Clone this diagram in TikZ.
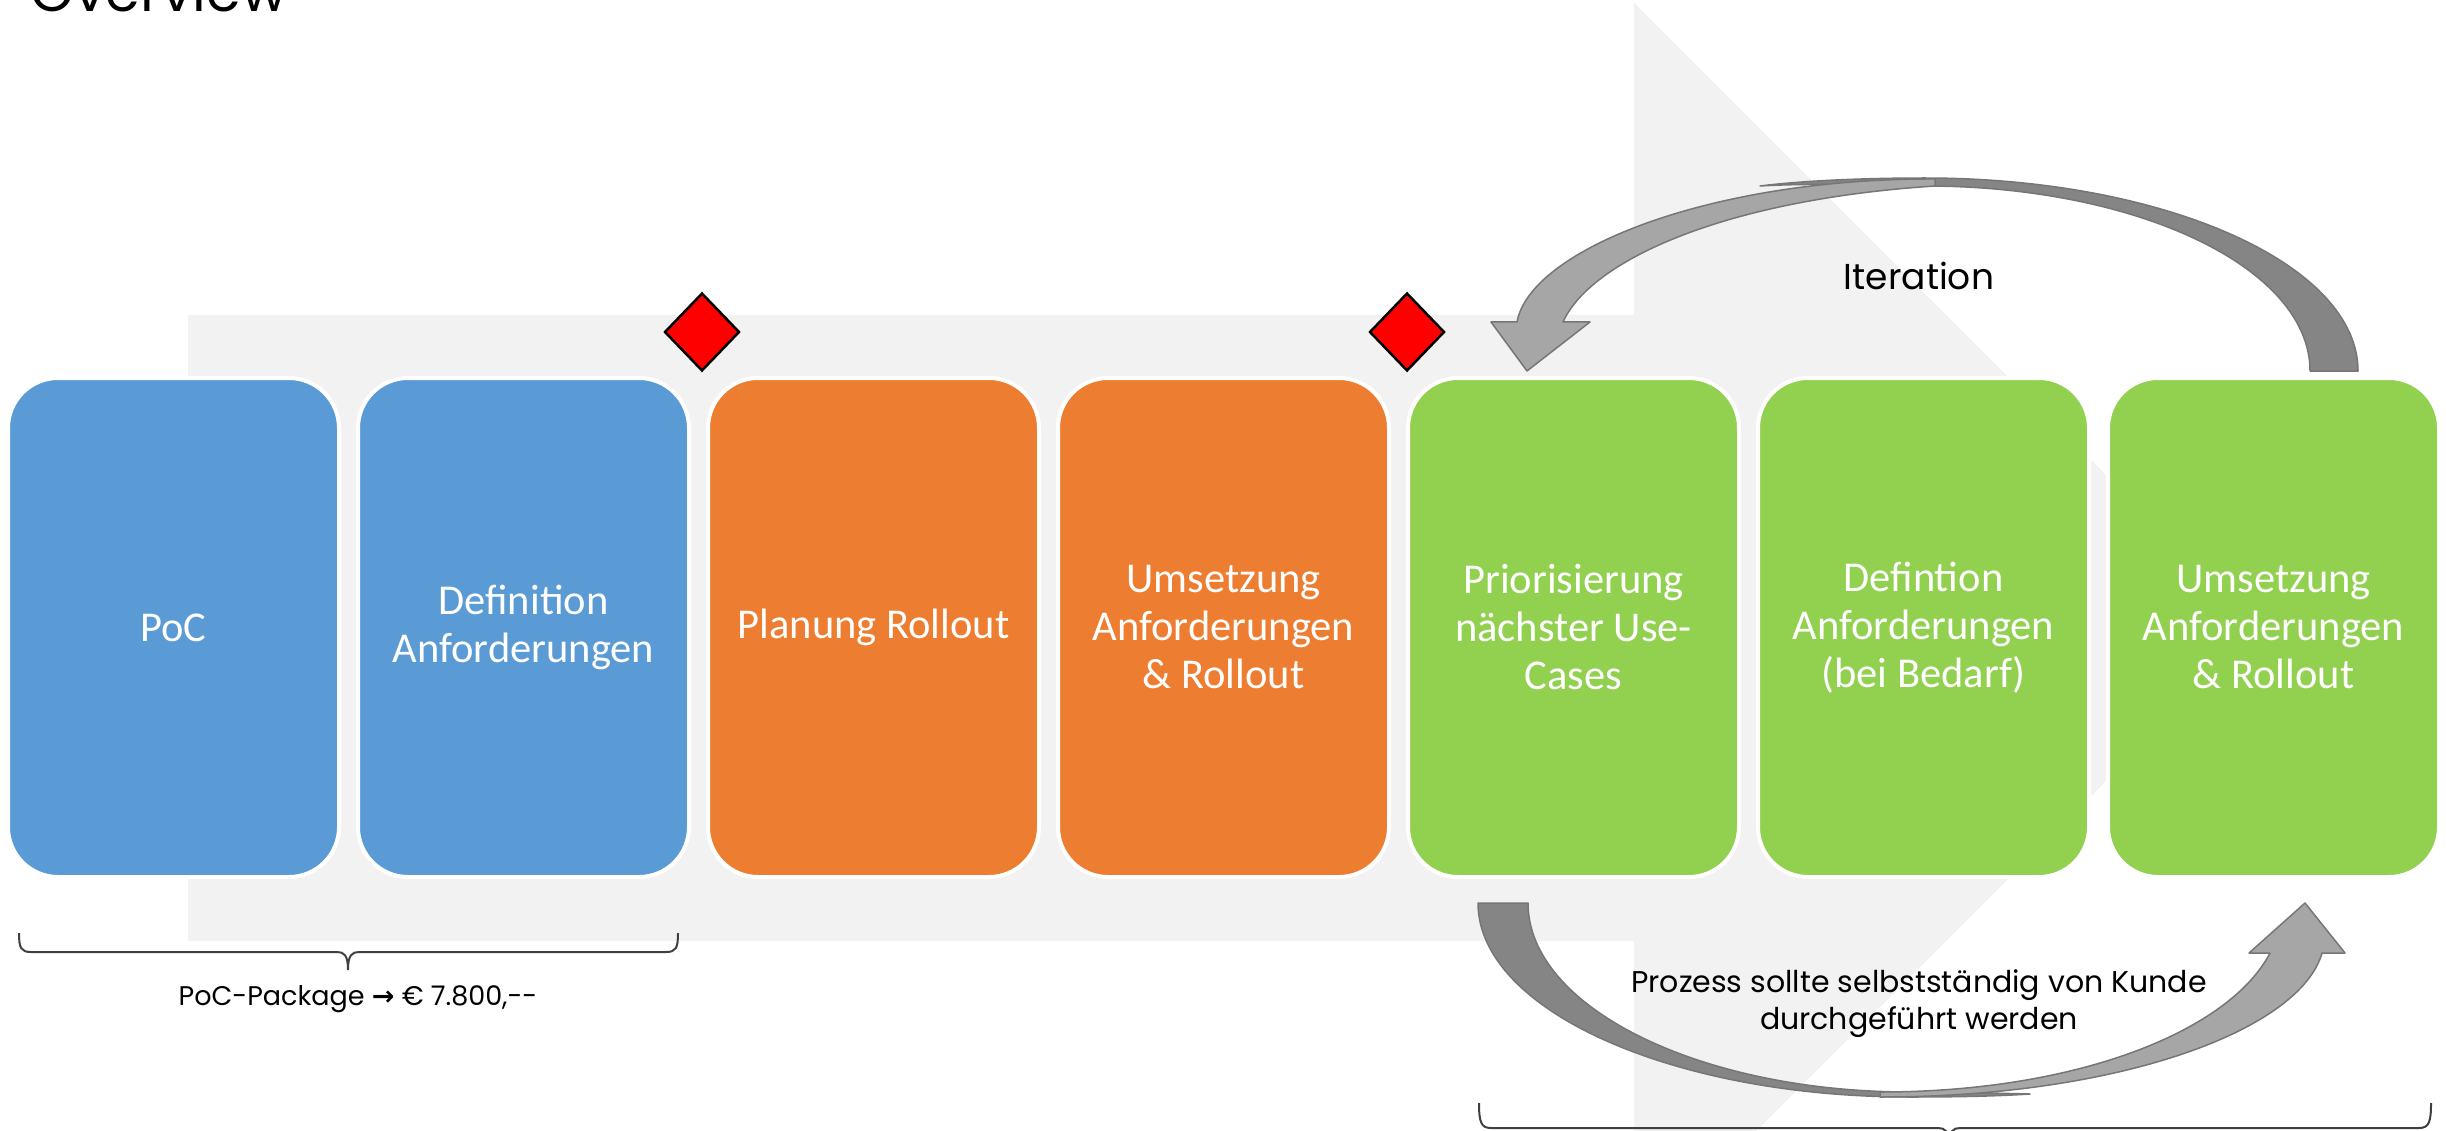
\documentclass[tikz,border=0pt]{standalone}
\usepackage{fontspec}
\usetikzlibrary{shapes.geometric}
\newfontfamily\boxfont{Carlito}
\newfontfamily\gothic{Poppins}
\newfontfamily\symfont{DejaVu Sans}
\definecolor{bgarrow}{HTML}{F2F2F2}
\definecolor{cblue}{HTML}{5B9BD5}
\definecolor{corange}{HTML}{ED7D31}
\definecolor{cgreen}{HTML}{92D050}
\definecolor{arrdark}{HTML}{858585}
\definecolor{arrlight}{HTML}{A6A6A6}
\definecolor{arredge}{HTML}{767676}
\definecolor{bracecol}{HTML}{404040}
\begin{document}
\begin{tikzpicture}[x=1pt,y=-1pt,
  phase/.style={draw=white, line width=4pt, rounded corners=50pt,
    minimum width=331pt, minimum height=499pt, inner sep=0pt,
    text=white, align=center, font=\boxfont\fontsize{42.5}{48}\selectfont},
  phaseblue/.style={phase, fill=cblue},
  phaseorange/.style={phase, fill=corange},
  phasegreen/.style={phase, fill=cgreen},
  gate/.style={diamond, draw=black, fill=red, line width=2.5pt,
    minimum width=75pt, minimum height=78pt, inner sep=0pt},
  darkpart/.style={fill=arrdark, draw=arredge, line width=1.5pt, line join=round},
  lightpart/.style={fill=arrlight, draw=arredge, line width=1.5pt, line join=round},
  bracket/.style={draw=bracecol, line width=2pt},
  note/.style={text=black, align=center, inner sep=0pt},
]
\useasboundingbox (0,0) rectangle (2446,1131);
\begin{scope}
\clip (0,0) rectangle (2446,1131);
% background process arrow
\fill[bgarrow] (188,315) -- (1634,315) -- (1634,3) -- (2259,628) -- (1634,1253)
  -- (1634,941) -- (188,941) -- cycle;

% title (cut off at top)
\node[anchor=base west, font=\gothic\fontsize{56}{56}\selectfont, inner sep=0pt] (title) at (30,12) {Overview};

% brackets
\coordinate (lbL) at (19,933);
\coordinate (lbR) at (678,933);
\draw[bracket] (lbL) .. controls (19,948) and (21,952) .. (31,952) -- (337,952)
  .. controls (344,952) and (348,955) .. (348,970)
  .. controls (348,955) and (352,952) .. (359,952) -- (666,952)
  .. controls (676,952) and (678,948) .. (lbR);
\coordinate (rbL) at (1479,1103);
\coordinate (rbR) at (2431,1103);
\draw[bracket] (rbL) .. controls (1479,1122) and (1481,1128) .. (1491,1128) -- (1938,1128)
  .. controls (1945,1128) and (1949,1131) .. (1949,1145)
  .. controls (1949,1131) and (1953,1128) .. (1960,1128) -- (2419,1128)
  .. controls (2429,1128) and (2431,1122) .. (rbR);
\end{scope}

% phases
\node[phaseblue]   (p1) at (173.5,627.5)  {PoC};
\node[phaseblue]   (p2) at (523.5,627.5)  {Definition\\Anforderungen};
\node[phaseorange] (p3) at (873.5,627.5)  {Planung Rollout};
\node[phaseorange] (p4) at (1223.5,627.5) {Umsetzung\\Anforderungen\\\& Rollout};
\node[phasegreen]  (p5) at (1573.5,627.5) {Priorisierung\\nächster Use-\\Cases};
\node[phasegreen]  (p6) at (1923.5,627.5) {Defintion\\Anforderungen\\(bei Bedarf)};
\node[phasegreen]  (p7) at (2273.5,627.5) {Umsetzung\\Anforderungen\\\& Rollout};

% gates
\node[gate] (g1) at (702,332) {};
\node[gate] (g2) at (1407,332) {};

% iteration arrow (top)
\path[darkpart] (2358,371) .. controls (2358,264) and (2164,178) .. (1925,178)
  .. controls (1860,178) and (1800,181) .. (1760,186)
  .. controls (1810,183) and (1870,185) .. (1925,186)
  .. controls (2138,186) and (2310,268) .. (2310,371) -- cycle;
\path[lightpart] (1935,179) .. controls (1710,178) and (1530,250) .. (1517,322)
  -- (1491,322) -- (1527,371) -- (1590,322) -- (1563,322)
  .. controls (1590,262) and (1720,200) .. (1935,186) -- cycle;

% customer-driven arrow (bottom)
\path[darkpart] (1478,903) .. controls (1478,1010) and (1672,1097) .. (1910,1097)
  .. controls (1960,1097) and (2000,1096) .. (2030,1094)
  .. controls (1990,1093) and (1950,1092) .. (1910,1092)
  .. controls (1699,1092) and (1528,1007) .. (1528,903) -- cycle;
\path[lightpart] (1880,1097) .. controls (2120,1097) and (2300,1030) .. (2322,953)
  -- (2345,953) -- (2305,903) -- (2249,953) -- (2270,953)
  .. controls (2230,1030) and (2080,1092) .. (1880,1092) -- cycle;

% labels
\node[note, font=\gothic\fontsize{36}{43}\selectfont] (iter) at (1919,276) {Iteration};
\node[note, font=\gothic\fontsize{30}{37}\selectfont] (proc) at (1919,1004) {Prozess sollte selbstständig von Kunde\\durchgeführt werden};
\node[note, font=\gothic\fontsize{27}{32}\selectfont] (poc) at (358,999) {PoC-Package {\symfont\bfseries→} € 7.800,--};
\end{tikzpicture}
\end{document}
